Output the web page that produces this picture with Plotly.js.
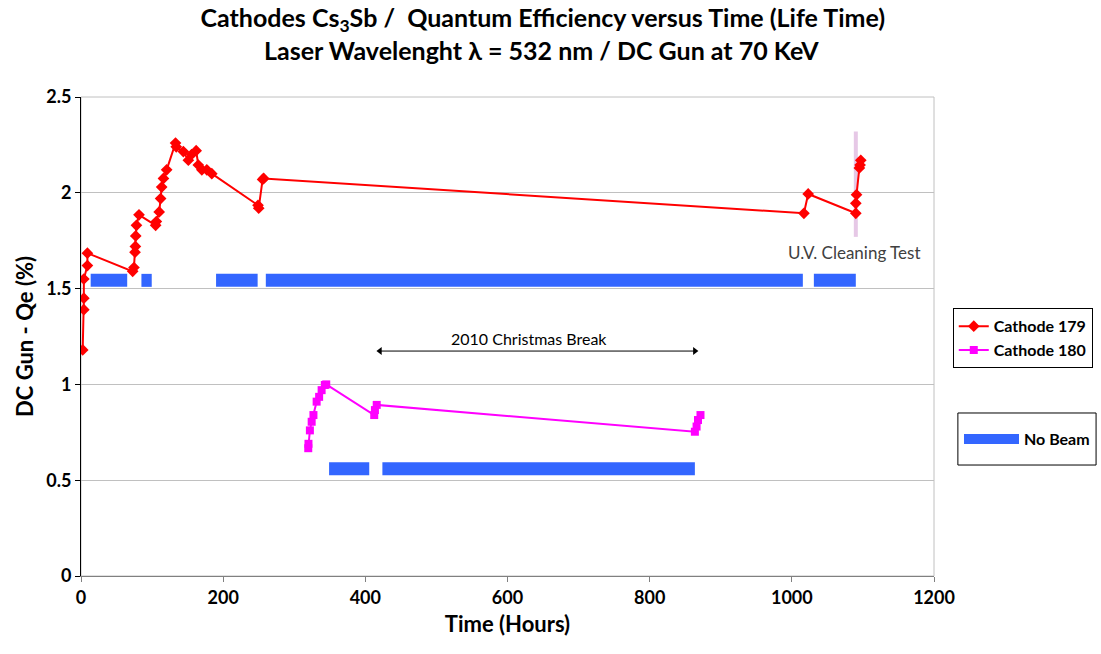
<!DOCTYPE html>
<html>
<head>
<meta charset="utf-8">
<script src="https://cdn.plot.ly/plotly-3.0.1.min.js"></script>
<style>
  body { margin: 0; background: #fff; }
  #plot { width: 1101px; height: 654px; }
</style>
</head>
<body>
<div id="plot"></div>
<script>
// Cathode 179 - time (hours) and QE (%)
var c179_x = [2.4, 4, 4, 4, 9, 9, 72.7, 74.5, 76, 76.5, 77, 78, 81.6, 105, 106, 110, 112, 113.5, 116, 120.5,
              133, 134, 144, 151, 155.6, 162, 165, 170, 177, 184, 249, 250, 255.5, 257,
              1017, 1023, 1090, 1090, 1091, 1095, 1096, 1097];
var c179_y = [1.18, 1.39, 1.45, 1.55, 1.62, 1.685, 1.59, 1.61, 1.69, 1.72, 1.775, 1.83, 1.885, 1.83, 1.85, 1.90, 1.97, 2.03, 2.075, 2.12,
              2.26, 2.24, 2.215, 2.17, 2.20, 2.22, 2.145, 2.12, 2.12, 2.10, 1.935, 1.92, 2.07, 2.075,
              1.893, 1.994, 1.893, 1.945, 1.99, 2.13, 2.145, 2.17];

// Cathode 180
var c180_x = [319.7, 320, 322, 324.5, 327, 331.5, 335, 338.5, 343, 345, 412.5, 413.5, 416, 863.6, 866, 868, 871.5];
var c180_y = [0.667, 0.69, 0.76, 0.805, 0.84, 0.91, 0.935, 0.97, 0.997, 1.0, 0.84, 0.866, 0.893, 0.753, 0.78, 0.814, 0.84];

// No beam periods (start, end) in hours
var noBeamTop_start = [13.6, 85, 190, 260, 1031];
var noBeamTop_end   = [65, 99.5, 248.5, 1015.5, 1090];
var noBeamTop_level = 1.543;
var noBeamLow_start = [349, 424];
var noBeamLow_end   = [405.5, 863.6];
var noBeamLow_level = 0.56;

// Christmas break span
var xmas_x = [420.5, 863.6];
var xmas_level = 1.174;

// UV cleaning marker
var uv_x = 1090;
var uv_range = [1.77, 2.32];

var xTicks = [0, 200, 400, 600, 800, 1000, 1200];
var yTicks = [0, 0.5, 1, 1.5, 2, 2.5];

function segments(starts, ends, level) {
  var xs = [], ys = [];
  for (var i = 0; i < starts.length; i++) {
    xs.push(starts[i], ends[i], null);
    ys.push(level, level, null);
  }
  return {x: xs, y: ys};
}

var segTop = segments(noBeamTop_start, noBeamTop_end, noBeamTop_level);
var segLow = segments(noBeamLow_start, noBeamLow_end, noBeamLow_level);
var beamX = segTop.x.concat(segLow.x);
var beamY = segTop.y.concat(segLow.y);

var blue = '#3366ff';

var plot_data = [
  {
    x: [uv_x, uv_x], y: uv_range,
    mode: 'lines', type: 'scatter',
    line: {color: '#e6c8e6', width: 4},
    showlegend: false, hoverinfo: 'skip'
  },
  {
    // double arrow for the christmas break
    x: xmas_x, y: [xmas_level, xmas_level],
    mode: 'lines+markers', type: 'scatter',
    line: {color: '#000', width: 1},
    marker: {symbol: ['triangle-left', 'triangle-right'], size: 7, color: '#000'},
    showlegend: false, hoverinfo: 'skip'
  },
  {
    x: beamX, y: beamY,
    mode: 'lines', type: 'scatter',
    name: 'No Beam',
    line: {color: blue, width: 13},
    legend: 'legend2'
  },
  {
    x: c179_x, y: c179_y,
    mode: 'lines+markers', type: 'scatter',
    name: 'Cathode 179',
    line: {color: '#ff0000', width: 2},
    marker: {symbol: 'diamond', size: 9, color: '#ff0000'}
  },
  {
    x: c180_x, y: c180_y,
    mode: 'lines+markers', type: 'scatter',
    name: 'Cathode 180',
    line: {color: '#ff00ff', width: 2},
    marker: {symbol: 'square', size: 8, color: '#ff00ff'}
  }
];

var fnt = 'Lato, "Open Sans", sans-serif';

var layout = {
  width: 1101, height: 654,
  margin: {l: 81, r: 167, t: 97, b: 78, autoexpand: false},
  paper_bgcolor: '#fff', plot_bgcolor: '#fff',
  font: {family: fnt, color: '#000'},
  title: {
    text: '<b>Cathodes Cs<sub>3</sub>Sb /  Quantum Efficiency versus Time (Life Time)</b>',
    font: {family: fnt, size: 25, color: '#000'},
    x: 0.493, xref: 'container', y: 0.972, yanchor: 'middle'
  },
  xaxis: {
    range: [0, 1200], tickvals: xTicks,
    showgrid: false, zeroline: false,
    showline: true, linecolor: '#808080', linewidth: 1,
    ticks: 'outside', ticklen: 5, tickcolor: '#808080',
    tickfont: {family: fnt, size: 18, color: '#000', weight: 'bold'},
    title: {text: '<b>Time (Hours)</b>', font: {family: fnt, size: 22, color: '#000'}, standoff: 10}
  },
  yaxis: {
    range: [0, 2.5], tickvals: yTicks,
    showgrid: true, gridcolor: '#c0c0c0', gridwidth: 1,
    zeroline: false,
    showline: true, linecolor: '#000', linewidth: 1,
    ticks: 'outside', ticklen: 5, tickcolor: '#000',
    tickfont: {family: fnt, size: 18, color: '#000', weight: 'bold'},
    title: {text: '<b>DC Gun - Qe (%)</b>', font: {family: fnt, size: 22, color: '#000'}, standoff: 6}
  },
  shapes: [
    {type: 'rect', xref: 'paper', yref: 'paper', x0: 0, x1: 1, y0: 0, y1: 1,
     line: {color: '#c0c0c0', width: 1}, layer: 'below'},
    {type: 'rect', xref: 'paper', yref: 'paper', x0: 1.028, x1: 1.190, y0: 0.2317, y1: 0.3403,
     line: {color: '#000', width: 1}, fillcolor: 'rgba(0,0,0,0)'}
  ],
  legend: {
    x: 1.022, y: 0.559, xanchor: 'left', yanchor: 'top',
    bordercolor: '#000', borderwidth: 1, bgcolor: '#fff',
    font: {family: fnt, size: 16, color: '#000', weight: 'bold'},
    itemwidth: 30, tracegroupgap: 0
  },
  legend2: {
    x: 1.0293, y: 0.286, xanchor: 'left', yanchor: 'middle',
    borderwidth: 0, bgcolor: 'rgba(0,0,0,0)',
    font: {family: fnt, size: 16, color: '#000', weight: 'bold'},
    itemwidth: 55
  },
  annotations: [
    {text: '<b>Laser Wavelenght λ = 532 nm / DC Gun at 70 KeV</b>',
     xref: 'paper', yref: 'paper', x: 0.54, y: 1.098, yanchor: 'middle', showarrow: false,
     font: {family: fnt, size: 25, color: '#000'}},
    {x: 630, y: 1.24, xref: 'x', yref: 'y', text: '2010 Christmas Break', showarrow: false,
     font: {family: fnt, size: 16, color: '#000'}},
    {x: 1088, y: 1.686, xref: 'x', yref: 'y', text: 'U.V. Cleaning Test', showarrow: false,
     font: {family: fnt, size: 17, color: '#404040'}}
  ]
};

Plotly.newPlot('plot', plot_data, layout, {displayModeBar: false});
</script>
</body>
</html>
